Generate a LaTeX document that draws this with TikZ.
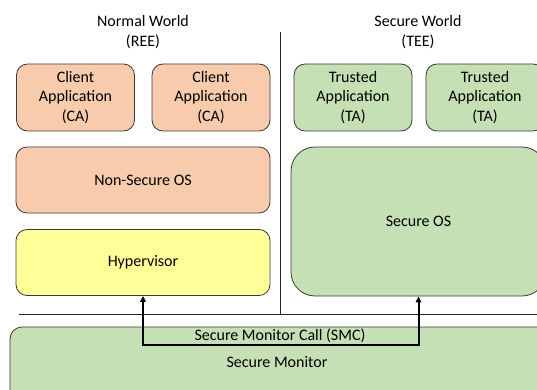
\documentclass[tikz,border=0pt]{standalone}
\usepackage{fontspec}
\setmainfont{Carlito}
\usepackage{tikz}
\usetikzlibrary{positioning}
\usetikzlibrary{arrows.meta}

\definecolor{caorange}{HTML}{F8CBAD}
\definecolor{tagreen}{HTML}{C5E0B4}
\definecolor{hypyellow}{HTML}{FFFF99}
\definecolor{boxline}{HTML}{3A3A3A}

\begin{document}
\begin{tikzpicture}
    [ x=1pt, y=-1pt,
    every node/.style={font=\fontsize{16}{19.5}\selectfont, align=center, inner sep=0pt},
    box/.style={draw=boxline, line width=0.8pt, rounded corners=11pt},
    app/.style={box, minimum width=118pt, minimum height=67pt},
    layer/.style={box, minimum width=254pt, minimum height=66pt},
    divider/.style={draw=black!85, line width=0.8pt},
    smcarrow/.style={line width=2pt, {Triangle[length=6pt,width=5.5pt]}-{Triangle[length=6pt,width=5.5pt]}}
    ]

    \useasboundingbox (0,0) rectangle (537,390);
    \clip (0,0) rectangle (537,390);

    % worlds
    \node (nw) at (143,32) {Normal World\\(REE)};
    \node (sw) at (418,32) {Secure World\\(TEE)};

    % normal world
    \node[app, fill=caorange] (ca1) at (75.5,97.5) {Client\\Application\\(CA)};
    \node[app, fill=caorange] (ca2) at (211,97.5) {Client\\Application\\(CA)};
    \node[layer, fill=caorange] (nsos) at (143,180) {Non-Secure OS};
    \node[layer, fill=hypyellow] (hyp) at (143,262.5) {Hypervisor};

    % secure world
    \node[app, fill=tagreen] (ta1) at (353,97.5) {Trusted\\Application\\(TA)};
    \node[app, fill=tagreen] (ta2) at (485,97.5) {Trusted\\Application\\(TA)};
    \node[box, fill=tagreen, rounded corners=24pt, minimum width=255pt, minimum height=149pt] (sos) at (418.5,221.5) {Secure OS};

    % separators
    \coordinate (vtop) at (280,32);
    \coordinate (vbot) at (280,314);
    \coordinate (hl) at (19,314);
    \coordinate (hr) at (540,314);
    \draw[divider] (vtop) -- (vbot);
    \draw[divider] (hl) -- (hr);

    % monitor
    \node[box, fill=tagreen, rounded corners=12pt, minimum width=560pt, minimum height=90pt] (mon) at (290,372) {};
    \node (smc) at (280,336) {Secure Monitor Call (SMC)};
    \node (monlabel) at (277,362) {Secure Monitor};

    \coordinate (bar) at (0,345);
    \draw[smcarrow] (hyp.south) -- (hyp.south |- bar) -| (sos.south);
  \end{tikzpicture}
\end{document}
